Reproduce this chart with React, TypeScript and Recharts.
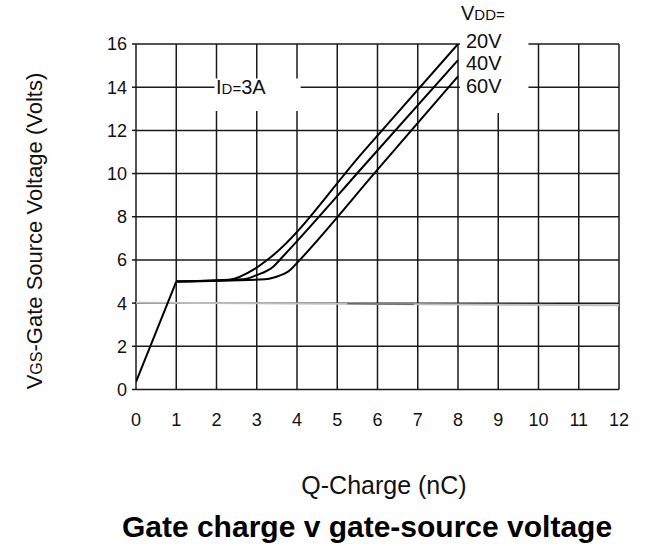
import { LineChart, Line, XAxis, YAxis, CartesianGrid, ReferenceArea } from "recharts";

const xTicks = [0, 1, 2, 3, 4, 5, 6, 7, 8, 9, 10, 11, 12];
const yTicks = [0, 2, 4, 6, 8, 10, 12, 14, 16];

// shared ramp up to the Miller plateau
const qRamp = [0, 1];
const vRamp = [0.35, 5.0];
// VDD = 20V
const q20 = [1, 2.3, 2.96, 3.33, 5.66, 8];
const v20 = [5.0, 5.08, 5.6, 6.1, 11.04, 16];
// VDD = 40V
const q40 = [1, 2.66, 3.0, 3.41, 3.62, 5.8, 8];
const v40 = [5.0, 5.1, 5.3, 5.69, 6.1, 10.65, 15.25];
// VDD = 60V
const q60 = [1, 3.2, 3.45, 3.83, 4.03, 6.0, 8];
const v60 = [5.0, 5.1, 5.2, 5.53, 5.92, 10.18, 14.5];
// faint grey trace near 4V
const qGrey = [0, 12];
const vGrey = [4.02, 3.9];
const qGreyDark = [5.25, 6.9];
const vGreyDark = [3.97, 3.95];

const pts = (xs: number[], ys: number[]) => xs.map((x, i) => ({ x, y: ys[i] }));

const font = "'Liberation Sans', Arial, sans-serif";

const curve = (data: { x: number; y: number }[], key: string, type: "monotone" | "linear" = "monotone") => (
  <Line
    key={key}
    data={data}
    dataKey="y"
    type={type}
    dot={false}
    stroke="#000"
    strokeWidth={2}
    isAnimationActive={false}
  />
);

const small = { fontSize: 15 };

export default function App() {
  return (
    <div style={{ position: "absolute", left: 0, top: 0, width: 649, height: 546, background: "#fff", fontFamily: font, color: "#111" }}>
      <LineChart width={649} height={546} margin={{ top: 44, right: 30, bottom: 0, left: 0 }}>
        <CartesianGrid stroke="#1a1a1a" strokeWidth={1.5} />
        <XAxis
          dataKey="x"
          type="number"
          domain={[0, 12]}
          ticks={xTicks}
          allowDataOverflow
          height={156.5}
          axisLine={false}
          tickLine={false}
          tickSize={0}
          tickMargin={24}
          tick={{ fontSize: 18, fill: "#111", fontFamily: font }}
        />
        <YAxis
          type="number"
          domain={[0, 16]}
          ticks={yTicks}
          allowDataOverflow
          width={136}
          axisLine={false}
          tickLine={{ stroke: "#1a1a1a", strokeWidth: 1.5 }}
          tickSize={4}
          tickMargin={5}
          tick={{ fontSize: 18, fill: "#111", fontFamily: font }}
        />
        <ReferenceArea x1={1.95} x2={4.09} y1={12.9} y2={14.4} fill="#fff" fillOpacity={1} stroke="none" ifOverflow="visible" />
        <ReferenceArea x1={8.05} x2={9.75} y1={12.8} y2={16.3} fill="#fff" fillOpacity={1} stroke="none" ifOverflow="visible" />
        <Line data={pts(qGrey, vGrey)} dataKey="y" type="linear" dot={false} stroke="#bdbdbd" strokeWidth={2} isAnimationActive={false} />
        <Line data={pts(qGreyDark, vGreyDark)} dataKey="y" type="linear" dot={false} stroke="#444" strokeWidth={1} isAnimationActive={false} />
        {curve(pts(qRamp, vRamp), "ramp", "linear")}
        {curve(pts(q60, v60), "v60")}
        {curve(pts(q40, v40), "v40")}
        {curve(pts(q20, v20), "v20")}
      </LineChart>

      <div style={{ position: "absolute", left: 216, top: 76, fontSize: 20, whiteSpace: "nowrap" }}>
        I<span style={small}>D</span><span style={small}>=</span>3A
      </div>
      <div style={{ position: "absolute", left: 461, top: 2, fontSize: 20, whiteSpace: "nowrap" }}>
        V<span style={small}>DD=</span>
      </div>
      <div style={{ position: "absolute", left: 466, top: 30, fontSize: 20 }}>20V</div>
      <div style={{ position: "absolute", left: 466, top: 52, fontSize: 20 }}>40V</div>
      <div style={{ position: "absolute", left: 466, top: 75, fontSize: 20 }}>60V</div>

      <div
        style={{
          position: "absolute",
          left: 35,
          top: 231,
          fontSize: 22,
          whiteSpace: "nowrap",
          transform: "translate(-50%, -50%) rotate(-90deg)",
        }}
      >
        V<span style={{ fontSize: 16 }}>GS</span>-Gate Source Voltage (Volts)
      </div>
      <div style={{ position: "absolute", left: 384, top: 485, fontSize: 25, whiteSpace: "nowrap", transform: "translate(-50%, -50%)" }}>
        Q-Charge (nC)
      </div>
      <div style={{ position: "absolute", left: 367, top: 527, fontSize: 30, fontWeight: "bold", whiteSpace: "nowrap", transform: "translate(-50%, -50%)", color: "#000" }}>
        Gate charge v gate-source voltage
      </div>
    </div>
  );
}
